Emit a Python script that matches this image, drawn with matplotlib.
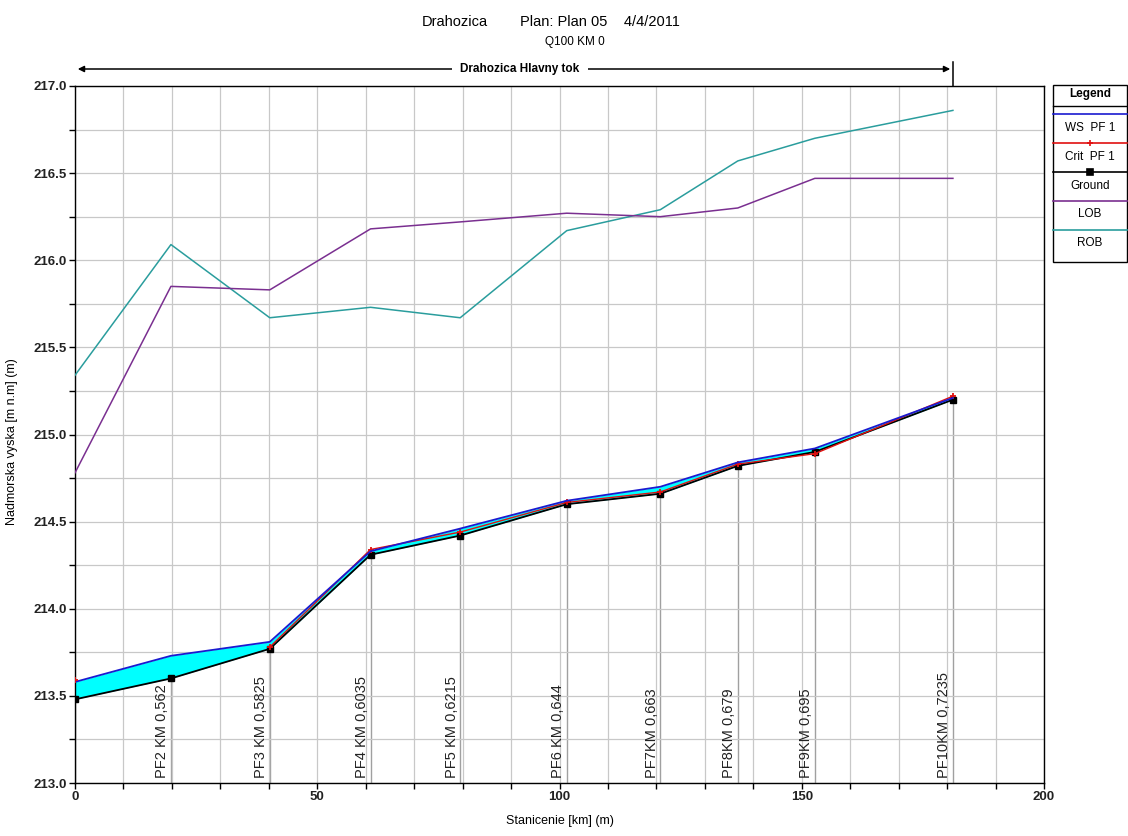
import matplotlib
matplotlib.use("Agg")
import matplotlib.pyplot as plt
from matplotlib.lines import Line2D
from matplotlib.patches import Rectangle, FancyArrowPatch
import numpy as np

plt.rcParams['font.family'] = ['Liberation Sans', 'DejaVu Sans']

# ---- data ----
stations = [0, 19.8, 40.2, 61.0, 79.5, 101.5, 120.8, 136.8, 152.7, 181.2]
station_labels = ["", "PF2 KM 0,562", "PF3 KM 0,5825", "PF4 KM 0,6035", "PF5 KM 0,6215",
                  "PF6 KM 0,644", "PF7KM 0,663", "PF8KM 0,679", "PF9KM 0,695", "PF10KM 0,7235"]
ws = [213.58, 213.73, 213.81, 214.33, 214.46, 214.62, 214.70, 214.84, 214.92, 215.21]
crit_x = [0, 40.2, 61.0, 79.5, 101.5, 120.8, 136.8, 152.7, 181.2]
crit = [213.59, 213.78, 214.34, 214.44, 214.61, 214.67, 214.83, 214.89, 215.22]
ground = [213.48, 213.60, 213.77, 214.31, 214.42, 214.60, 214.66, 214.82, 214.90, 215.20]
lob = [214.78, 215.85, 215.83, 216.18, 216.22, 216.27, 216.25, 216.30, 216.47, 216.47]
rob = [215.34, 216.09, 215.67, 215.73, 215.67, 216.17, 216.29, 216.57, 216.70, 216.86]

W, H = 1128, 836
fig = plt.figure(figsize=(W / 100, H / 100), dpi=100)
ax = fig.add_axes([75 / W, 1 - 783 / H, (1044 - 75) / W, (783 - 86) / H])

ax.set_xlim(0, 200)
ax.set_ylim(213.0, 217.0)

# grid
ax.set_xticks([0, 50, 100, 150, 200])
ax.set_xticks(np.arange(0, 201, 10), minor=True)
ax.set_yticks(np.arange(213.0, 217.01, 0.5))
ax.set_yticks(np.arange(213.0, 217.01, 0.25), minor=True)
ax.set_yticklabels([f"{v:.1f}" for v in np.arange(213.0, 217.01, 0.5)])
ax.grid(True, which='both', color='#c8c8c8', linewidth=0.9, zorder=0)
ax.tick_params(which='both', direction='out', length=4, width=1, labelsize=9.5, pad=2)
for lab in ax.get_xticklabels() + ax.get_yticklabels():
    lab.set_fontweight('bold')
    lab.set_color('#222222')
for s in ax.spines.values():
    s.set_linewidth(1.0)

# station lines
for xs, g, lab in zip(stations, ground, station_labels):
    ax.plot([xs, xs], [213.0, g], color='#a0a0a0', lw=1.0, zorder=1)
    if lab:
        ax.text(xs - 0.3, 213.03, lab, rotation=90, ha='right', va='bottom',
                fontsize=10.5, color='#222222', zorder=2)

# water fill
ax.fill_between(stations, ground, ws, color='#00ffff', zorder=2, linewidth=0)

ax.plot(stations, rob, color='#2a9d9d', lw=1.1, zorder=3)
ax.plot(stations, lob, color='#7a2f90', lw=1.1, zorder=3)
ax.plot(stations, ground, color='black', lw=1.3, marker='s', ms=4.5, zorder=4)
ax.plot(crit_x[1:], crit[1:], color='#e01010', lw=1.0, marker='+', ms=5, mew=1.3, zorder=5)
ax.plot(crit_x[:1], crit[:1], color='#e01010', lw=0, marker='+', ms=5, mew=1.3, zorder=6)
ax.plot(stations, ws, color='#1a1ad0', lw=1.3, zorder=5)

ax.set_xlabel("Stanicenie [km] (m)", fontsize=9)
ax.xaxis.set_label_coords(0.5, -(815 - 783) / 697)
ax.set_ylabel("Nadmorska vyska [m n.m] (m)", fontsize=9)
ax.yaxis.set_label_coords(-(75 - 18) / 969, 0.49)

# titles
fig.text(455 / W, 1 - 22 / H, "Drahozica", ha='center', va='center', fontsize=10.5)
fig.text(600 / W, 1 - 22 / H, "Plan: Plan 05    4/4/2011", ha='center', va='center', fontsize=10.5)
fig.text(575 / W, 1 - 42 / H, "Q100 KM 0", ha='center', va='center', fontsize=8.5)

# reach bar
ytop = 1 - 69 / H
x0 = 75 / W
x1 = 953 / W
fig.add_artist(FancyArrowPatch((x0, ytop), (x1, ytop), transform=fig.transFigure,
                               arrowstyle='<|-|>', mutation_scale=9, lw=1.1, color='black'))
fig.add_artist(Line2D([x1, x1], [1 - 62 / H, 1 - 86 / H], transform=fig.transFigure, color='black', lw=1.1))
fig.text((x0 + x1) / 2 + 0.005, ytop, "Drahozica Hlavny tok", ha='center', va='center', fontsize=8.5,
         fontweight='bold', bbox=dict(facecolor='white', edgecolor='none', pad=6))

# legend box
lx0, lx1 = 1053, 1127
fig.add_artist(Rectangle((lx0 / W, 1 - 262 / H), (lx1 - lx0) / W, (262 - 85) / H, transform=fig.transFigure,
                         fill=False, edgecolor='black', lw=1.0))
fig.add_artist(Line2D([lx0 / W, lx1 / W], [1 - 106 / H, 1 - 106 / H], transform=fig.transFigure, color='black', lw=1.0))
cx = (lx0 + lx1) / 2 / W
fig.text(cx, 1 - 94 / H, "Legend", ha='center', va='center', fontsize=8.5, fontweight='bold')
entries = [("WS  PF 1", '#1a1ad0', None, 114, 128),
           ("Crit  PF 1", '#e01010', '+', 143, 157),
           ("Ground", 'black', 's', 172, 186),
           ("LOB", '#7a2f90', None, 201, 214),
           ("ROB", '#2a9d9d', None, 230, 243)]
for lab, col, mk, yl, yt in entries:
    fig.add_artist(Line2D([lx0 / W, lx1 / W], [1 - yl / H, 1 - yl / H], transform=fig.transFigure,
                          color=col, lw=1.2))
    if mk:
        fig.add_artist(Line2D([cx], [1 - yl / H], transform=fig.transFigure, color=col,
                              marker=mk, ms=4.5, mew=1.2, lw=0))
    fig.text(cx, 1 - yt / H, lab, ha='center', va='center', fontsize=8.5)

fig.savefig("out.png", dpi=100)
